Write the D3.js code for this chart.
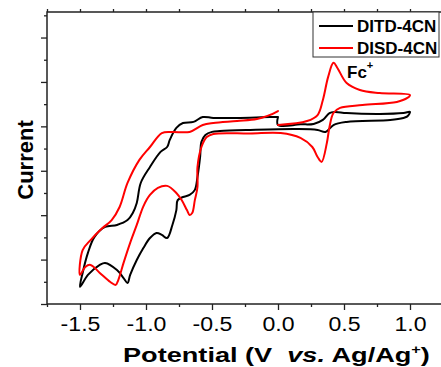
<!DOCTYPE html>
<html>
<head>
<meta charset="utf-8">
<script src="https://cdn.jsdelivr.net/npm/d3@7/dist/d3.min.js"></script>
<style>
  html, body { margin: 0; padding: 0; background: #fff; }
  svg { display: block; font-family: Arial, "Liberation Sans", sans-serif; }
</style>
</head>
<body>
<svg id="chart" width="441" height="367"></svg>
<script>
// ---------------- data ----------------
const seriesNames = ["DITD-4CN", "DISD-4CN"];
const seriesColors = ["#000000", "#ff0000"];

// DITD-4CN : potential (V vs Ag/Ag+) and current (arb. units), in scan order
const ditdV = [0.00, 0.00, 0.17, 0.27, 0.34, 0.39, 0.43, 0.52, 0.77, 0.95, 1.00,
  0.98, 0.95, 0.85, 0.52, 0.42, 0.36, 0.30, 0.14, -0.21, -0.44, -0.50, -0.55, -0.58,
  -0.59, -0.61, -0.63, -0.67, -0.72, -0.76, -0.77, -0.80, -0.84, -0.88, -0.92, -0.97,
  -1.02, -1.07, -1.12, -1.14, -1.17, -1.22, -1.31, -1.35, -1.44, -1.50,
  -1.48, -1.44, -1.39, -1.31, -1.22, -1.14, -1.10, -1.07, -1.04, -0.97, -0.89, -0.84,
  -0.82, -0.77, -0.72, -0.64, -0.57, -0.49, -0.31, -0.06, 0.00];
const ditdI = [8.42, 8.06, 8.09, 8.11, 8.29, 8.60, 8.65, 8.60, 8.56, 8.60, 8.65,
  8.45, 8.38, 8.29, 8.20, 8.06, 7.75, 7.84, 7.88, 7.84, 7.79, 7.75, 7.61, 7.30,
  6.62, 5.72, 5.14, 4.91, 4.82, 4.68, 4.23, 3.56, 2.97, 3.11, 3.20, 2.97,
  2.52, 1.98, 1.31, 0.95, 1.17, 1.53, 1.85, 1.76, 1.31, 0.77,
  1.40, 2.30, 3.02, 3.47, 3.56, 3.78, 4.10, 4.55, 5.45, 6.17, 6.85, 7.07,
  7.39, 7.93, 8.15, 8.20, 8.42, 8.38, 8.38, 8.42, 8.42];

// DISD-4CN (with ferrocene) : potential and current, in scan order
const disdV = [0.00, 0.22, 0.30, 0.34, 0.38, 0.42, 0.45, 0.52, 0.62, 0.77, 1.00,
  0.98, 0.90, 0.64, 0.47, 0.42, 0.39, 0.37, 0.33, 0.30, 0.26, 0.17, 0.02, -0.21,
  -0.49, -0.54, -0.58, -0.61, -0.61, -0.63, -0.65, -0.67, -0.69, -0.73, -0.77, -0.84,
  -0.91, -0.97, -1.02, -1.07, -1.12, -1.17, -1.21, -1.23, -1.27, -1.35, -1.42, -1.46, -1.50,
  -1.48, -1.42, -1.33, -1.26, -1.20, -1.14, -1.05, -0.97, -0.88, -0.80, -0.67, -0.57,
  -0.49, -0.31, -0.16, -0.08, 0.00];
const disdI = [8.06, 8.24, 8.51, 9.19, 10.23, 10.86, 10.63, 9.95, 9.64, 9.50, 9.41,
  9.28, 9.10, 8.96, 8.83, 8.60, 7.97, 7.25, 6.40, 6.62, 7.07, 7.48, 7.70, 7.68,
  7.66, 7.52, 7.07, 6.17, 5.27, 4.68, 4.10, 4.01, 4.23, 4.68, 5.00, 5.32,
  5.23, 4.91, 4.40, 3.56, 2.75, 1.85, 1.08, 0.86, 0.99, 1.40, 1.76, 1.67, 1.31,
  2.43, 2.88, 3.42, 3.78, 4.37, 5.45, 6.49, 7.07, 7.70, 7.75, 7.75, 8.06,
  8.15, 8.24, 8.33, 8.47, 8.69];

const xMajorTicks = [-1.5, -1.0, -0.5, 0.0, 0.5, 1.0];
const xMinorTicks = [-1.75, -1.25, -0.75, -0.25, 0.25, 0.75, 1.25];
const yMajorTicks = [0, 2, 4, 6, 8, 10, 12];
const yMinorTicks = [1, 3, 5, 7, 9, 11, 13];
const xDomain = [-1.75, 1.25];
const yDomain = [0, 13.15];

// ---------------- drawing ----------------
const svg = d3.select("#chart");
const M = { left: 47, top: 12, right: 443, bottom: 304 };

const x = d3.scaleLinear().domain(xDomain).range([M.left, M.right]);
const y = d3.scaleLinear().domain(yDomain).range([M.bottom, M.top]);

const axisColor = "#222";

// curves
const series = [
  { name: seriesNames[0], color: seriesColors[0], pts: ditdV.map((v, i) => [v, ditdI[i]]) },
  { name: seriesNames[1], color: seriesColors[1], pts: disdV.map((v, i) => [v, disdI[i]]) }
];
const line = d3.line().x(d => x(d[0])).y(d => y(d[1])).curve(d3.curveCatmullRom.alpha(0.5));

const plot = svg.append("g");
series.forEach(s => {
  plot.append("path")
    .attr("d", line(s.pts))
    .attr("fill", "none")
    .attr("stroke", s.color)
    .attr("stroke-width", 2)
    .attr("stroke-linejoin", "round")
    .attr("stroke-linecap", "round");
});

// axes
function styleAxis(g) {
  g.selectAll(".domain").remove();
  g.selectAll(".tick line").attr("stroke", axisColor).attr("stroke-width", 1.3);
}
svg.append("g").attr("transform", `translate(0,${M.bottom})`)
  .call(d3.axisBottom(x).tickValues(xMajorTicks).tickSize(6).tickPadding(6)
    .tickFormat(d3.format(".1f")))
  .call(styleAxis)
  .call(g => g.selectAll("text")
    .attr("font-size", 21).attr("fill", "#000")
    .attr("font-family", "Arial, 'Liberation Sans', sans-serif")
    .attr("transform", "scale(1.1,1)"))
  .call(g => g.selectAll(".tick text").text(d => d3.format(".1f")(d).replace("−", "-")));
svg.append("g").attr("transform", `translate(0,${M.bottom})`)
  .call(d3.axisBottom(x).tickValues(xMinorTicks).tickSize(3).tickFormat(""))
  .call(styleAxis);
svg.append("g").attr("transform", `translate(0,${M.top})`)
  .call(d3.axisTop(x).tickValues(xMajorTicks.concat(xMinorTicks)).tickSize(3).tickFormat(""))
  .call(styleAxis);
svg.append("g").attr("transform", `translate(${M.left},0)`)
  .call(d3.axisLeft(y).tickValues(yMajorTicks).tickSize(6).tickFormat(""))
  .call(styleAxis);
svg.append("g").attr("transform", `translate(${M.left},0)`)
  .call(d3.axisLeft(y).tickValues(yMinorTicks).tickSize(3).tickFormat(""))
  .call(styleAxis);

// frame
svg.append("rect")
  .attr("x", M.left).attr("y", M.top)
  .attr("width", M.right - M.left).attr("height", M.bottom - M.top)
  .attr("fill", "none").attr("stroke", axisColor).attr("stroke-width", 1.5);

// axis titles
const yTitle = svg.append("text")
  .attr("transform", "translate(33,160) rotate(-90)")
  .attr("text-anchor", "middle")
  .attr("font-size", 22).attr("font-weight", "bold").attr("fill", "#000")
  .text("Current");

const xTitle = svg.append("text")
  .attr("font-size", 20).attr("font-weight", "bold").attr("fill", "#000");
xTitle.append("tspan").text("Potential (V\u00a0\u00a0");
xTitle.append("tspan").attr("font-style", "italic").text("vs.");
xTitle.append("tspan").text(" Ag/Ag");
xTitle.append("tspan").attr("font-size", 12).attr("dy", -8).text("+");
xTitle.append("tspan").attr("dy", 8).text(")");
const w = xTitle.node().getBBox().width;
xTitle.attr("transform", `translate(123,362) scale(${307 / w},1)`);

// legend
const lg = svg.append("g");
lg.append("rect").attr("x", 313).attr("y", M.top).attr("width", 126).attr("height", 45)
  .attr("fill", "#fff").attr("stroke", "#333").attr("stroke-width", 1);
series.forEach((s, i) => {
  const ly = 26 + i * 22;
  lg.append("line").attr("x1", 319).attr("x2", 353).attr("y1", ly).attr("y2", ly)
    .attr("stroke", s.color).attr("stroke-width", 2);
  lg.append("text").attr("x", 357).attr("y", ly + 6)
    .attr("font-size", 17).attr("font-weight", "bold").attr("fill", "#000")
    .text(s.name);
});

// Fc+ annotation
const fc = svg.append("text").attr("x", 347).attr("y", 78)
  .attr("font-size", 17).attr("font-weight", "bold").attr("fill", "#000");
fc.append("tspan").text("Fc");
fc.append("tspan").attr("font-size", 11).attr("dy", -9).text("+");
</script>
</body>
</html>
